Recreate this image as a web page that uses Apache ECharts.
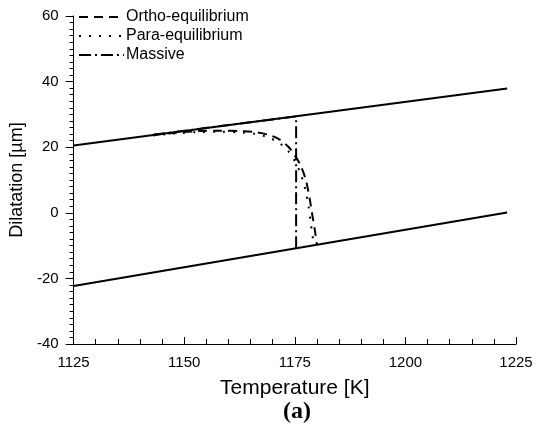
<!DOCTYPE html>
<html>
<head>
<meta charset="utf-8">
<script src="https://cdn.jsdelivr.net/npm/echarts@6/dist/echarts.min.js"></script>
<style>html,body{margin:0;padding:0;background:#fff}#c{width:538px;height:428px}</style>
</head>
<body>
<div id="c"></div>
<script>
var xTicks = [1125, 1150, 1175, 1200, 1225];
var yTicks = [-40, -20, 0, 20, 40, 60];
var upperLine = [[1125, 20.5], [1223, 37.9]];
var lowerLine = [[1125, -22.35], [1223, 0.1]];
var ortho = [[1143, 23.7], [1148, 24.4], [1153, 24.9], [1158, 25.0], [1163, 24.9], [1166, 24.6], [1169, 23.8], [1171.5, 22.4], [1173.5, 20.2], [1175, 17.5], [1176.3, 14.5], [1177.5, 10], [1178.4, 4], [1179, -1], [1179.5, -5], [1180, -9.75]];
var para = [[1143, 23.6], [1148, 24.2], [1153, 24.6], [1158, 24.7], [1163, 24.5], [1166, 24.1], [1169, 23.0], [1171.5, 21.3], [1173.5, 18.8], [1175, 15.8], [1176.3, 12], [1177.3, 7.5], [1178.1, 2], [1178.6, -3], [1179, -7], [1179.4, -9.9]];
var massive = [[1143, 23.8], [1175.3, 29.4], [1175.3, -10.8]];

var chart = echarts.init(document.getElementById('c'));
var font = 'Liberation Sans, Arial, sans-serif';
chart.setOption({
  animation: false,
  backgroundColor: '#fff',
  color: ['#000'],
  grid: { left: 73, right: 22, top: 16, bottom: 84, containLabel: false },
  legend: {
    orient: 'vertical', left: 73, top: 4, itemWidth: 45, itemHeight: 14, itemGap: 3,
    itemStyle: { opacity: 0 },
    textStyle: { fontFamily: font, fontSize: 16, color: '#000', padding: [0, 0, 0, -3] },
    data: ['Ortho-equilibrium', 'Para-equilibrium', 'Massive']
  },
  xAxis: {
    type: 'value', min: xTicks[0], max: xTicks[xTicks.length - 1], interval: 25,
    name: 'Temperature [K]', nameLocation: 'middle', nameGap: 34,
    nameTextStyle: { fontFamily: font, fontSize: 21, color: '#000' },
    axisLine: { show: true, onZero: false, lineStyle: { color: '#000', width: 1 } },
    axisTick: { show: true, inside: true, length: 7, lineStyle: { color: '#000' } },
    minorTick: { show: true, splitNumber: 5, length: 5, lineStyle: { color: '#000' } },
    axisLabel: { fontFamily: font, fontSize: 15, color: '#000', margin: 11, formatter: function (v) { return String(v); } },
    splitLine: { show: false }
  },
  yAxis: {
    type: 'value', min: yTicks[0], max: yTicks[yTicks.length - 1], interval: 20,
    name: 'Dilatation [\u00b5m]', nameLocation: 'middle', nameGap: 46,
    nameTextStyle: { fontFamily: font, fontSize: 18, color: '#000' },
    axisLine: { show: true, onZero: false, lineStyle: { color: '#000', width: 1 } },
    axisTick: { show: true, inside: false, length: 8, lineStyle: { color: '#000' } },
    minorTick: { show: true, splitNumber: 10, length: 4, lineStyle: { color: '#000' } },
    axisLabel: { fontFamily: font, fontSize: 15, color: '#000', margin: 15, formatter: function (v) { return String(v); } },
    splitLine: { show: false }
  },
  graphic: [{
    type: 'text', x: 297, y: 412,
    style: { text: '(a)', font: 'bold 24px "Liberation Serif", "Times New Roman", serif', fill: '#000', align: 'center', verticalAlign: 'middle' }
  }],
  series: [
    { name: 'upper', type: 'line', data: upperLine, symbol: 'none', lineStyle: { color: '#000', width: 2 } },
    { name: 'lower', type: 'line', data: lowerLine, symbol: 'none', lineStyle: { color: '#000', width: 2 } },
    { name: 'Ortho-equilibrium', type: 'line', data: ortho, symbol: 'none', smooth: 0.3,
      itemStyle: { color: '#000' }, lineStyle: { color: '#000', width: 2, type: [9, 6] } },
    { name: 'Para-equilibrium', type: 'line', data: para, symbol: 'none', smooth: 0.3,
      itemStyle: { color: '#000' }, lineStyle: { color: '#000', width: 2, type: [2, 8] } },
    { name: 'Massive', type: 'line', data: massive, symbol: 'none',
      itemStyle: { color: '#000' }, lineStyle: { color: '#000', width: 2, type: [12, 4, 2, 4] } }
  ]
});
</script>
</body>
</html>
